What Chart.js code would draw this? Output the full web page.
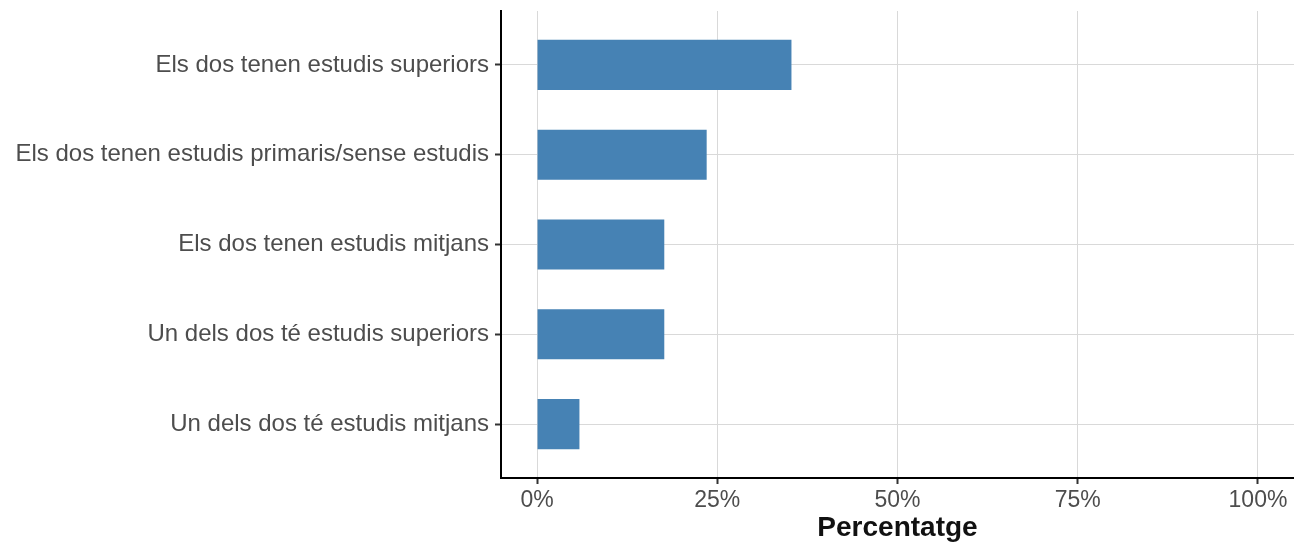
<!DOCTYPE html>
<html>
<head>
<meta charset="utf-8">
<script src="https://cdn.jsdelivr.net/npm/chart.js@4"></script>
<style>
  html, body { margin: 0; padding: 0; background: #fff; }
  canvas { display: block; }
</style>
</head>
<body>
<canvas id="chart" width="1294" height="545"></canvas>
<script>
// categories, top to bottom
const categories = [
  'Els dos tenen estudis superiors',
  'Els dos tenen estudis primaris/sense estudis',
  'Els dos tenen estudis mitjans',
  'Un dels dos té estudis superiors',
  'Un dels dos té estudis mitjans'
];
const percentages = [35.29, 23.53, 17.65, 17.65, 5.88];
const xTicks = [0, 25, 50, 75, 100];

const FONT = '"Liberation Sans", Arial, Helvetica, sans-serif';
const n = categories.length;

// top category sits at the highest position (ggplot style)
const points = percentages.map((v, i) => ({ x: v, y: n - i }));

const ctx = document.getElementById('chart').getContext('2d');
new Chart(ctx, {
  type: 'bar',
  data: {
    datasets: [{
      data: points,
      backgroundColor: '#4682B4',
      borderWidth: 0,
      categoryPercentage: 1,
      barPercentage: 0.557
    }]
  },
  options: {
    indexAxis: 'y',
    responsive: false,
    animation: false,
    devicePixelRatio: 1,
    layout: { padding: { top: 11, right: 0, bottom: 0, left: 0 } },
    plugins: {
      legend: { display: false },
      tooltip: { enabled: false }
    },
    scales: {
      x: {
        type: 'linear',
        min: -5,
        max: 105,
        afterBuildTicks: s => { s.ticks = xTicks.map(v => ({ value: v })); },
        afterFit: s => {
          s.height = 67;
          s.paddingLeft = 0;
          s.paddingRight = 0;
        },
        grid: {
          color: '#d9d9d9',
          lineWidth: 1,
          tickColor: '#333333',
          tickWidth: 2,
          tickLength: 6
        },
        border: { display: true, color: '#000000', width: 2 },
        ticks: {
          color: '#4d4d4d',
          font: { family: FONT, size: 23 },
          padding: 3,
          maxRotation: 0,
          callback: v => v + '%'
        },
        title: {
          display: true,
          text: 'Percentatge',
          color: '#111111',
          font: { family: FONT, size: 28, weight: 'bold' },
          padding: 0
        }
      },
      y: {
        type: 'linear',
        offset: false,
        min: 0.4,
        max: n + 0.6,
        afterBuildTicks: s => { s.ticks = categories.map((c, i) => ({ value: n - i })); },
        afterFit: s => {
          s.width = 501;
          s.paddingTop = 0;
          s.paddingBottom = 0;
        },
        grid: {
          offset: false,
          color: '#d9d9d9',
          lineWidth: 1,
          tickColor: '#333333',
          tickWidth: 2,
          tickLength: 6
        },
        border: { display: true, color: '#000000', width: 2 },
        ticks: {
          color: '#4d4d4d',
          font: { family: FONT, size: 24 },
          padding: 6,
          callback: v => categories[n - v]
        }
      }
    }
  }
});
</script>
</body>
</html>
